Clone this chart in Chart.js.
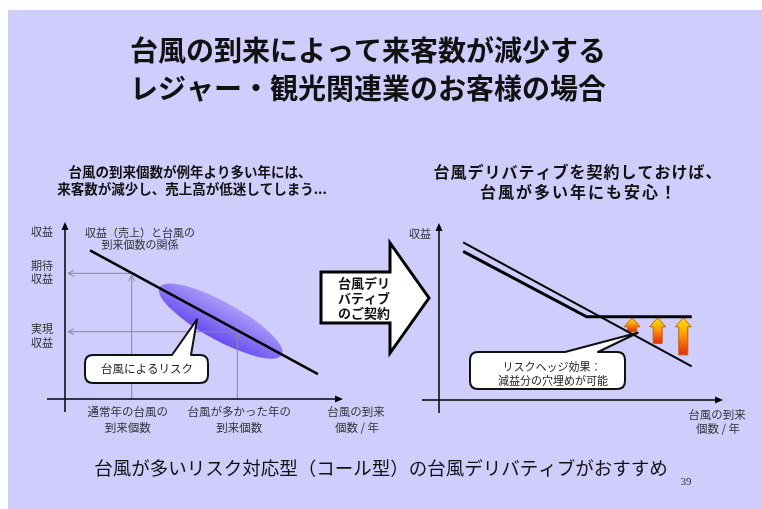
<!DOCTYPE html>
<html lang="ja">
<head>
<meta charset="utf-8">
<script src="https://cdn.jsdelivr.net/npm/chart.js@4.4.1/dist/chart.umd.min.js"></script>
<style>
    html, body { margin: 0; padding: 0; background: #fff; }
    #slide { position: relative; width: 762px; height: 509px; overflow: hidden; background: #fff; }
    #bg { position: absolute; left: 8px; top: 10px; right: 0; bottom: 0; background: #cfcdfc; }
    canvas { position: absolute; left: 0; top: 0; }
</style>
</head>
<body>
<div id="slide">
    <div id="bg"></div>
    <canvas id="before" width="762" height="509"></canvas>
    <canvas id="after" width="762" height="509"></canvas>
</div>
<script>
const FONT = '"Noto Sans CJK JP", "Noto Sans", sans-serif'

// left: revenue falls as the number of typhoons rises
const revenueX = [0.9, 9.1]
const revenueY = [8.4, 1.4]
const riskX = [3.4, 7.8]
const riskY = [6.3, 2.5]
const normalYear = { x: 2.4, y: 7.1 }
const stormyYear = { x: 6.2, y: 3.8 }
const riskPointer = { x: 4.75, y: 4.5 }

// right: same revenue with a call-type typhoon derivative
const plainX = [0.85, 8.9]
const plainY = [8.9, 1.9]
const hedgedX = [0.85, 5.2, 8.9]
const hedgedY = [8.4, 4.7, 4.7]
const payoutX = [6.8, 7.7, 8.6]
const payoutFrom = [3.85, 3.2, 2.55]
const payoutTo = [4.7, 4.7, 4.7]
const hedgePointer = { x: 7.0, y: 3.8 }

// texts
const titleLines = ["台風の到来によって来客数が減少する", "レジャー・観光関連業のお客様の場合"]
const leftHeader = ["台風の到来個数が例年より多い年には、", "来客数が減少し、売上高が低迷してしまう..."]
const rightHeader = ["台風デリバティブを契約しておけば、", "台風が多い年にも安心！"]
const yAxisTitle = "収益"
const expectedLabel = ["期待", "収益"]
const realizedLabel = ["実現", "収益"]
const relationLabel = ["収益（売上）と台風の", "到来個数の関係"]
const normalYearLabel = ["通常年の台風の", "到来個数"]
const stormyYearLabel = ["台風が多かった年の", "到来個数"]
const xAxisTitle = ["台風の到来", "個数 / 年"]
const riskNote = "台風によるリスク"
const hedgeNote = ["リスクヘッジ効果：", "減益分の穴埋めが可能"]
const contractLabel = ["台風デリ", "バティブ", "のご契約"]
const footer = "台風が多いリスク対応型（コール型）の台風デリバティブがおすすめ"
const pageNo = "39"

const text = (ctx, str, x, y, size, opts = {}) => {
    ctx.save()
    ctx.font = `${opts.bold ? "bold " : ""}${size}px ${opts.family || FONT}`
    ctx.fillStyle = opts.color || "#111"
    ctx.textAlign = opts.align || "center"
    ctx.textBaseline = "middle"
    if (opts.spacing) ctx.letterSpacing = opts.spacing + "px"
    ctx.fillText(str, x, y)
    ctx.restore()
}

const axisArrow = (ctx, x1, y1, x2, y2) => {
    const a = Math.atan2(y2 - y1, x2 - x1)
    ctx.save()
    ctx.strokeStyle = "#000"
    ctx.fillStyle = "#000"
    ctx.lineWidth = 1.5
    ctx.beginPath()
    ctx.moveTo(x1, y1)
    ctx.lineTo(x2 - 5 * Math.cos(a), y2 - 5 * Math.sin(a))
    ctx.stroke()
    ctx.translate(x2, y2)
    ctx.rotate(a)
    ctx.beginPath()
    ctx.moveTo(0, 0)
    ctx.lineTo(-8, -3.5)
    ctx.lineTo(-8, 3.5)
    ctx.closePath()
    ctx.fill()
    ctx.restore()
}

const guide = (ctx, x1, y1, x2, y2) => {
    const a = Math.atan2(y2 - y1, x2 - x1)
    ctx.save()
    ctx.strokeStyle = "#8686a4"
    ctx.lineWidth = 1
    ctx.beginPath()
    ctx.moveTo(x1, y1)
    ctx.lineTo(x2, y2)
    ctx.stroke()
    ctx.translate(x2, y2)
    ctx.rotate(a)
    ctx.beginPath()
    ctx.moveTo(-6, -3)
    ctx.lineTo(0, 0)
    ctx.lineTo(-6, 3)
    ctx.stroke()
    ctx.restore()
}

// rounded box with a pointer tail on its top edge
const callout = (ctx, box, tail, tip) => {
    const { l, t, r, b } = box
    const rad = 8
    ctx.save()
    ctx.beginPath()
    ctx.moveTo(l + rad, t)
    ctx.lineTo(tail[0], t)
    ctx.lineTo(tip.x, tip.y)
    ctx.lineTo(tail[1], t)
    ctx.lineTo(r - rad, t)
    ctx.quadraticCurveTo(r, t, r, t + rad)
    ctx.lineTo(r, b - rad)
    ctx.quadraticCurveTo(r, b, r - rad, b)
    ctx.lineTo(l + rad, b)
    ctx.quadraticCurveTo(l, b, l, b - rad)
    ctx.lineTo(l, t + rad)
    ctx.quadraticCurveTo(l, t, l + rad, t)
    ctx.closePath()
    ctx.fillStyle = "#fff"
    ctx.fill()
    ctx.lineWidth = 2
    ctx.lineJoin = "round"
    ctx.strokeStyle = "#111"
    ctx.stroke()
    ctx.restore()
}

const upArrow = (ctx, cx, top, bottom) => {
    const headW = 16, shaftW = 9, headH = 9
    const g = ctx.createLinearGradient(0, top, 0, bottom)
    g.addColorStop(0, "#ffe800")
    g.addColorStop(0.45, "#ff9c00")
    g.addColorStop(1, "#e8280c")
    ctx.save()
    ctx.beginPath()
    ctx.moveTo(cx, top)
    ctx.lineTo(cx + headW / 2, top + headH)
    ctx.lineTo(cx + shaftW / 2, top + headH)
    ctx.lineTo(cx + shaftW / 2, bottom)
    ctx.lineTo(cx - shaftW / 2, bottom)
    ctx.lineTo(cx - shaftW / 2, top + headH)
    ctx.lineTo(cx - headW / 2, top + headH)
    ctx.closePath()
    ctx.fillStyle = g
    ctx.fill()
    ctx.strokeStyle = "#c0620a"
    ctx.lineWidth = 1
    ctx.stroke()
    ctx.restore()
}

const beforePlugin = {
    id: "beforeDeco",
    beforeDatasetsDraw(chart) {
        const { ctx, scales: { x, y } } = chart
        const x0 = x.getPixelForValue(0)
        const y0 = y.getPixelForValue(0)

        // risk band along the revenue line
        const ax = x.getPixelForValue(riskX[0]), ay = y.getPixelForValue(riskY[0])
        const bx = x.getPixelForValue(riskX[1]), by = y.getPixelForValue(riskY[1])
        const ang = Math.atan2(by - ay, bx - ax)
        const half = Math.hypot(bx - ax, by - ay) / 2
        ctx.save()
        ctx.translate((ax + bx) / 2, (ay + by) / 2)
        ctx.rotate(ang)
        const g = ctx.createLinearGradient(0, -19, 0, 19)
        g.addColorStop(0, "#ab9af8")
        g.addColorStop(1, "#6a4ef0")
        ctx.beginPath()
        ctx.ellipse(0, 0, half, 19, 0, 0, Math.PI * 2)
        ctx.fillStyle = g
        ctx.fill()
        ctx.restore()

        // guides: normal year and stormy year
        for (const p of [normalYear, stormyYear]) {
            const px = x.getPixelForValue(p.x)
            const py = y.getPixelForValue(p.y)
            guide(ctx, px, py, x0 + 3, py)
            guide(ctx, px, y0, px, py + 2)
        }

        axisArrow(ctx, x0, y0 + 13, x0, chart.chartArea.top)
        axisArrow(ctx, x0 - 18, y0, chart.chartArea.right, y0)
    },
    afterDatasetsDraw(chart) {
        const { ctx, scales: { x, y } } = chart
        const x0 = x.getPixelForValue(0)
        const y0 = y.getPixelForValue(0)
        const top = chart.chartArea.top

        // callout for the risk band
        const tip = { x: x.getPixelForValue(riskPointer.x), y: y.getPixelForValue(riskPointer.y) }
        callout(ctx, { l: 85, t: 355, r: 208, b: 383 }, [172, 191], tip)
        text(ctx, riskNote, 147, 369, 11.5, { color: "#222" })

        // axis labels
        const lx = x0 - 23
        text(ctx, yAxisTitle, lx, top + 10, 11, { color: "#333" })
        const ey = y.getPixelForValue(normalYear.y)
        text(ctx, expectedLabel[0], lx, ey - 8, 11, { color: "#333" })
        text(ctx, expectedLabel[1], lx, ey + 5, 11, { color: "#333" })
        const ry = y.getPixelForValue(stormyYear.y)
        text(ctx, realizedLabel[0], lx, ry - 3, 11, { color: "#333" })
        text(ctx, realizedLabel[1], lx, ry + 11, 11, { color: "#333" })
        text(ctx, relationLabel[0], 140, top + 11, 11, { color: "#333" })
        text(ctx, relationLabel[1], 140, top + 23, 11, { color: "#333" })

        const nx = x.getPixelForValue(normalYear.x)
        const sx = x.getPixelForValue(stormyYear.x)
        text(ctx, normalYearLabel[0], nx - 4, y0 + 13, 11.5, { color: "#333" })
        text(ctx, normalYearLabel[1], nx - 4, y0 + 29, 11.5, { color: "#333" })
        text(ctx, stormyYearLabel[0], sx + 2, y0 + 13, 11.5, { color: "#333" })
        text(ctx, stormyYearLabel[1], sx + 2, y0 + 29, 11.5, { color: "#333" })
        text(ctx, xAxisTitle[0], 356, y0 + 13, 11.5, { color: "#333" })
        text(ctx, xAxisTitle[1], 357, y0 + 29, 11.5, { color: "#333" })

        // page texts
        text(ctx, titleLines[0], 368, 50, 28, { bold: true })
        text(ctx, titleLines[1], 368, 88, 28, { bold: true })
        text(ctx, leftHeader[0], 190, 172, 13.5, { bold: true })
        text(ctx, leftHeader[1], 192, 189, 13.5, { bold: true })
        text(ctx, footer, 381, 468, 18.5)
        text(ctx, pageNo, 686, 482, 11, { family: '"Liberation Serif", serif', color: "#333" })

        // block arrow between the two panels
        ctx.save()
        ctx.beginPath()
        ctx.moveTo(321, 272)
        ctx.lineTo(390, 272)
        ctx.lineTo(390, 243)
        ctx.lineTo(429, 298)
        ctx.lineTo(390, 353)
        ctx.lineTo(390, 323)
        ctx.lineTo(321, 323)
        ctx.closePath()
        ctx.fillStyle = "#fff"
        ctx.fill()
        ctx.lineWidth = 3
        ctx.lineJoin = "miter"
        ctx.strokeStyle = "#000"
        ctx.stroke()
        ctx.restore()
        contractLabel.forEach((s, i) => text(ctx, s, 364, 283 + i * 15, 13, { bold: true }))
    },
}

const afterPlugin = {
    id: "afterDeco",
    beforeDatasetsDraw(chart) {
        const { ctx, scales: { x, y } } = chart
        const x0 = x.getPixelForValue(0)
        const y0 = y.getPixelForValue(0)

        payoutX.forEach((v, i) => {
            upArrow(ctx, x.getPixelForValue(v), y.getPixelForValue(payoutTo[i]) + 1, y.getPixelForValue(payoutFrom[i]))
        })

        axisArrow(ctx, x0, y0 + 13, x0, chart.chartArea.top)
        axisArrow(ctx, x0 - 17, y0, chart.chartArea.right, y0)
    },
    afterDatasetsDraw(chart) {
        const { ctx, scales: { x, y } } = chart
        const x0 = x.getPixelForValue(0)
        const y0 = y.getPixelForValue(0)

        const tip = { x: x.getPixelForValue(hedgePointer.x), y: y.getPixelForValue(hedgePointer.y) }
        callout(ctx, { l: 470, t: 352, r: 625, b: 389 }, [565, 598], tip)
        text(ctx, hedgeNote[0], 552, 367, 11, { color: "#222" })
        text(ctx, hedgeNote[1], 553, 381, 11, { color: "#222" })

        text(ctx, yAxisTitle, x0 - 19, chart.chartArea.top + 11, 11, { color: "#333" })
        text(ctx, xAxisTitle[0], 717, y0 + 15, 11.5, { color: "#333" })
        text(ctx, xAxisTitle[1], 718, y0 + 29, 11.5, { color: "#333" })

        text(ctx, rightHeader[0], 578, 172, 16, { bold: true, spacing: 1 })
        text(ctx, rightHeader[1], 579, 192, 16, { bold: true, spacing: 2 })
    },
}

const hiddenScales = {
    x: { type: "linear", min: 0, max: 10, display: false },
    y: { type: "linear", min: 0, max: 10, display: false },
}

const baseOptions = (padding) => ({
    responsive: false,
    animation: false,
    events: [],
    layout: { padding },
    scales: hiddenScales,
    plugins: { legend: { display: false }, tooltip: { enabled: false } },
})

const points = (xs, ys) => xs.map((x, i) => ({ x, y: ys[i] }))

new Chart(document.getElementById("before"), {
    type: "scatter",
    data: {
        datasets: [
            {
                data: points(revenueX, revenueY),
                showLine: true,
                borderColor: "#000",
                borderWidth: 2.5,
                pointRadius: 0,
                clip: false,
            },
        ],
    },
    options: baseOptions({ left: 65, top: 222, right: 419, bottom: 110 }),
    plugins: [beforePlugin],
})

new Chart(document.getElementById("after"), {
    type: "scatter",
    data: {
        datasets: [
            {
                data: points(plainX, plainY),
                showLine: true,
                borderColor: "#000",
                borderWidth: 2,
                pointRadius: 0,
                clip: false,
            },
            {
                data: points(hedgedX, hedgedY),
                showLine: true,
                borderColor: "#000",
                borderWidth: 3,
                pointRadius: 0,
                clip: false,
            },
        ],
    },
    options: baseOptions({ left: 439, top: 223, right: 39, bottom: 109 }),
    plugins: [afterPlugin],
})
</script>
</body>
</html>
